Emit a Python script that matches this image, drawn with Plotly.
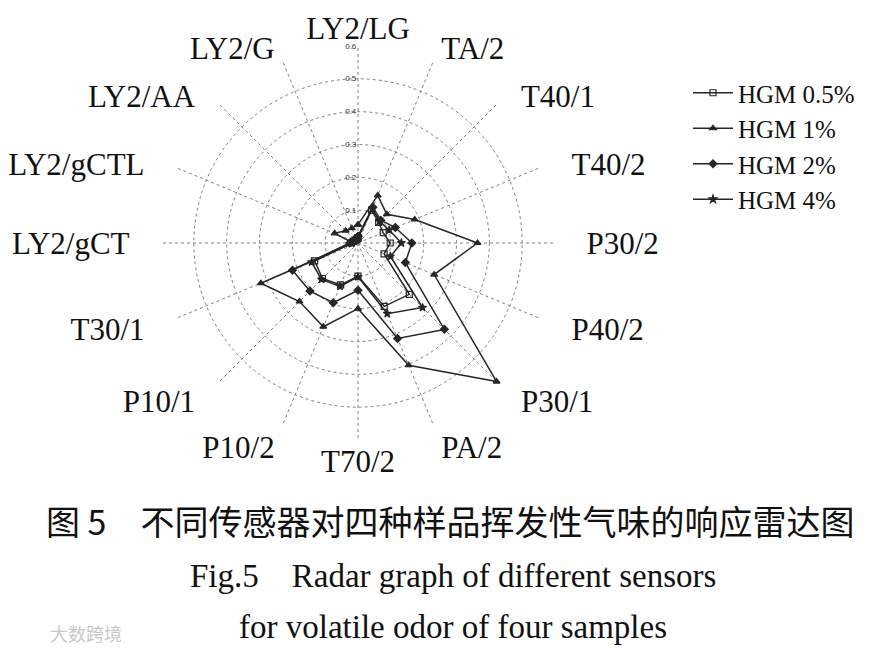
import plotly.graph_objects as go

categories = ["LY2/LG", "TA/2", "T40/1", "T40/2", "P30/2", "P40/2", "P30/1", "PA/2",
              "T70/2", "P10/2", "P10/1", "T30/1", "LY2/gCT", "LY2/gCTL", "LY2/AA", "LY2/G"]
# padding (non-breaking spaces) so labels sit like the reference
label_pad = [0, 1, 3, 4, 4, 4, 3, 1, 0, 1, 3, 4, 4, 4, 3, 1]

hgm_05 = [0.015, 0.108, 0.089, 0.083, 0.098, 0.086, 0.221, 0.209, 0.101, 0.138, 0.153, 0.143, 0.02, 0.015, 0.012, 0.012]
hgm_1 = [0.056, 0.157, 0.124, 0.187, 0.364, 0.251, 0.597, 0.403, 0.2, 0.276, 0.252, 0.32, 0.015, 0.077, 0.053, 0.049]
hgm_2 = [0.02, 0.118, 0.098, 0.123, 0.164, 0.156, 0.372, 0.315, 0.144, 0.197, 0.207, 0.216, 0.025, 0.015, 0.012, 0.012]
hgm_4 = [0.02, 0.113, 0.093, 0.103, 0.132, 0.107, 0.278, 0.233, 0.103, 0.143, 0.157, 0.153, 0.02, 0.015, 0.012, 0.012]

series_names = ["HGM 0.5%", "HGM 1%", "HGM 2%", "HGM 4%"]
radial_ticks = [0.1, 0.2, 0.3, 0.4, 0.5, 0.6]

series = [
    (series_names[0], hgm_05, "square-open"),
    (series_names[1], hgm_1, "triangle-up"),
    (series_names[2], hgm_2, "diamond"),
    (series_names[3], hgm_4, "star"),
]

W, H = 887, 654
cx, cy, R = 350.0, 235.0, 197.0

ticktext = []
for i, c in enumerate(categories):
    p = "\u00a0" * label_pad[i]
    if 1 <= i <= 7:
        ticktext.append(p + c)
    elif 9 <= i <= 15:
        ticktext.append(c + p)
    else:
        ticktext.append(c)

fig = go.Figure()
for name, vals, sym in series:
    fig.add_trace(go.Scatterpolar(
        r=vals + vals[:1],
        theta=categories + categories[:1],
        mode="lines+markers",
        name=name,
        line=dict(color="#262626", width=1.5),
        marker=dict(symbol=sym, size=6, color="#262626",
                    line=dict(color="#262626", width=1.2)),
    ))

fig.update_layout(
    width=W, height=H,
    margin=dict(l=0, r=0, t=0, b=0),
    paper_bgcolor="white",
    plot_bgcolor="white",
    font=dict(family="Liberation Serif, Times New Roman, serif", color="#111111"),
    polar=dict(
        domain=dict(x=[(cx - R) / W, (cx + R) / W],
                    y=[(H - cy - R) / H, (H - cy + R) / H]),
        bgcolor="white",
        angularaxis=dict(
            direction="clockwise", rotation=90,
            categoryorder="array", categoryarray=categories,
            tickmode="array", tickvals=categories, ticktext=ticktext,
            showline=False,
            gridcolor="#808080", griddash="dot", gridwidth=1.2,
            ticks="",
            tickfont=dict(size=31, family="Liberation Serif, serif", color="#111111"),
        ),
        radialaxis=dict(
            range=[0, 0.6], tickvals=radial_ticks,
            ticktext=[str(t) for t in radial_ticks],
            angle=90, tickangle=90, side="counterclockwise",
            showline=False, ticks="",
            gridcolor="#808080", griddash="dot", gridwidth=1.2,
            tickfont=dict(size=8, family="Liberation Sans, Arial, sans-serif", color="#333333"),
        ),
    ),
    legend=dict(
        x=680 / W, y=1 - 62 / H, xanchor="left", yanchor="top",
        font=dict(size=25, family="Liberation Serif, serif", color="#111111"),
        tracegroupgap=0, itemwidth=40,
        bgcolor="rgba(0,0,0,0)",
    ),
    showlegend=True,
)

fig.add_annotation(text="图 5\u3000不同传感器对四种样品挥发性气味的响应雷达图",
                   x=442 / W, y=1 - 539 / H, xref="paper", yref="paper",
                   showarrow=False, font=dict(size=34, family="Noto Sans CJK SC", color="#111111"))
fig.add_annotation(text="Fig.5\u2003Radar graph of different sensors",
                   x=445 / W, y=1 - 588 / H, xref="paper", yref="paper",
                   showarrow=False, font=dict(size=33, family="Liberation Serif, serif", color="#111111"))
fig.add_annotation(text="for volatile odor of four samples",
                   x=445 / W, y=1 - 639 / H, xref="paper", yref="paper",
                   showarrow=False, font=dict(size=33, family="Liberation Serif, serif", color="#111111"))
fig.add_annotation(text="大数跨境",
                   x=40 / W, y=1 - 640 / H, xref="paper", yref="paper", xanchor="left",
                   showarrow=False, font=dict(size=18, family="Noto Sans CJK SC", color="#c8c8c8"))

fig.write_html("out.html")
